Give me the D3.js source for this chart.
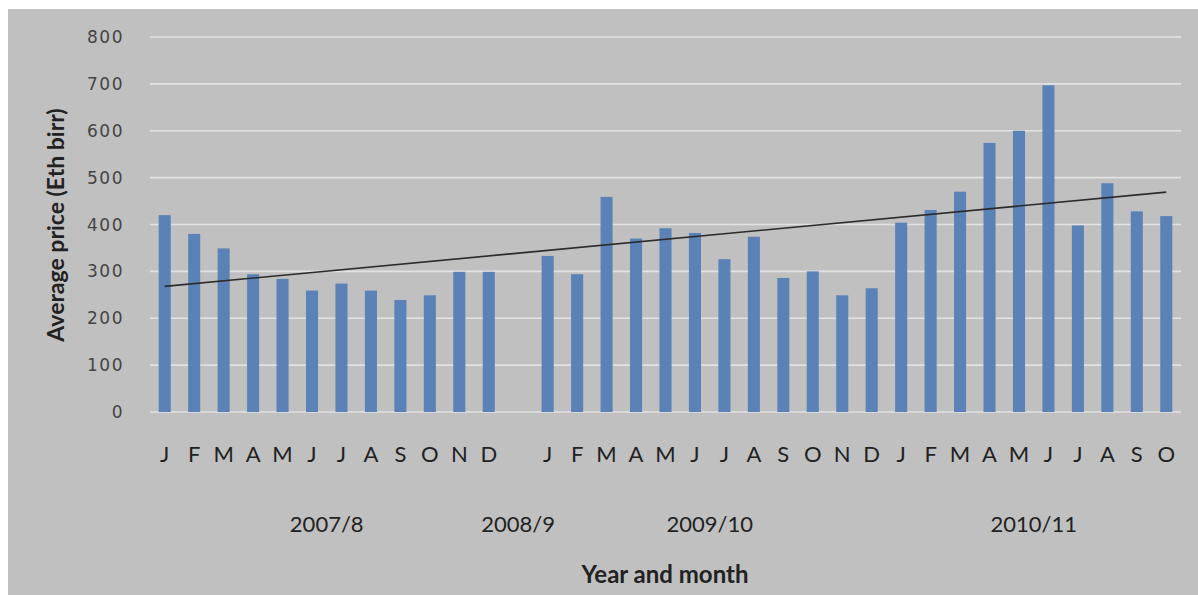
<!DOCTYPE html>
<html>
<head>
<meta charset="utf-8">
<script src="https://cdn.jsdelivr.net/npm/d3@7"></script>
<style>
  html, body { margin: 0; padding: 0; background: #ffffff; }
  svg { display: block; }
</style>
</head>
<body>
<svg id="chart" width="1198" height="595"></svg>
<script>
// ---- data ----
const monthLetters = ["J","F","M","A","M","J","J","A","S","O","N","D"];
const yearLabels = ["2007/8", "2008/9", "2009/10", "2010/11"];
const prices2007_8  = [420, 380, 349, 294, 284, 259, 274, 259, 239, 249, 299, 299];
const prices2008_9  = [null]; // no data: one empty slot
const prices2009_10 = [333, 294, 459, 370, 392, 382, 326, 374, 286, 300, 249, 264];
const prices2010_11 = [404, 431, 470, 574, 600, 697, 398, 488, 428, 418];
const yTicks = [0, 100, 200, 300, 400, 500, 600, 700, 800];
const trendStartValue = 268;
const trendEndValue = 469;
const yTitle = "Average price (Eth birr)";
const xTitle = "Year and month";

// build slot table
const groups = [prices2007_8, prices2008_9, prices2009_10, prices2010_11];
const slots = [];
groups.forEach((arr, g) => {
  arr.forEach((v, i) => {
    slots.push({ key: g + "-" + i, group: g, month: v === null ? "" : monthLetters[i], value: v });
  });
});

// ---- layout ----
const svg = d3.select("#chart");
const W = 1198, H = 595;
const plotLeft = 150, plotRight = 1181, plotTop = 37, plotBottom = 412;

svg.append("rect").attr("x", 8).attr("y", 9).attr("width", W - 8).attr("height", H - 9)
  .attr("fill", "#c0c0c0");

const x = d3.scaleBand().domain(slots.map(d => d.key)).range([plotLeft, plotRight])
  .paddingInner(0.59).paddingOuter(0.295);
const y = d3.scaleLinear().domain([0, 800]).range([plotBottom, plotTop]);

// gridlines
svg.append("g").selectAll("line").data(yTicks).join("line")
  .attr("x1", plotLeft).attr("x2", plotRight)
  .attr("y1", d => y(d)).attr("y2", d => y(d))
  .attr("stroke", "#e2e2e2").attr("stroke-width", 1.6);

// y tick labels
svg.append("g").selectAll("text").data(yTicks).join("text")
  .attr("x", 124).attr("y", d => y(d)).attr("dy", "0.36em")
  .attr("text-anchor", "end")
  .attr("font-family", "DejaVu Sans, sans-serif").attr("font-size", 17)
  .attr("letter-spacing", 1.5)
  .attr("fill", "#444444")
  .text(d => d);

// bars
svg.append("g").selectAll("rect").data(slots.filter(d => d.value !== null)).join("rect")
  .attr("x", d => x(d.key)).attr("width", x.bandwidth())
  .attr("y", d => y(d.value)).attr("height", d => y(0) - y(d.value))
  .attr("fill", "#5b82b6");

// trend line
const first = slots[0].key, last = slots[slots.length - 1].key;
svg.append("line")
  .attr("x1", x(first) + x.bandwidth() / 2).attr("y1", y(trendStartValue))
  .attr("x2", x(last) + x.bandwidth() / 2).attr("y2", y(trendEndValue))
  .attr("stroke", "#2b2b2b").attr("stroke-width", 1.6);

// month labels
svg.append("g").selectAll("text").data(slots.filter(d => d.month)).join("text")
  .attr("x", d => x(d.key) + x.bandwidth() / 2).attr("y", 462)
  .attr("text-anchor", "middle")
  .attr("font-family", "Lato, sans-serif").attr("font-size", 22)
  .attr("fill", "#222222")
  .text(d => d.month);

// year labels centred under each group
const yearPos = yearLabels.map((lab, g) => {
  const gs = slots.filter(d => d.group === g);
  const x0 = x(gs[0].key) - x.step() * x.paddingInner() / 2;
  const x1 = x(gs[gs.length - 1].key) + x.bandwidth() + x.step() * x.paddingInner() / 2;
  return { lab, cx: (x0 + x1) / 2 };
});
svg.append("g").selectAll("text").data(yearPos).join("text")
  .attr("x", d => d.cx).attr("y", 532)
  .attr("text-anchor", "middle")
  .attr("font-family", "Lato, sans-serif").attr("font-size", 22)
  .attr("fill", "#222222")
  .text(d => d.lab);

// axis titles
svg.append("text")
  .attr("transform", "translate(64,225) rotate(-90)")
  .attr("text-anchor", "middle")
  .attr("font-family", "Lato, sans-serif").attr("font-weight", "bold").attr("font-size", 23)
  .attr("fill", "#222222")
  .text(yTitle);

svg.append("text")
  .attr("x", 665).attr("y", 583)
  .attr("text-anchor", "middle")
  .attr("font-family", "Lato, sans-serif").attr("font-weight", "bold").attr("font-size", 24)
  .attr("fill", "#222222")
  .text(xTitle);
</script>
</body>
</html>
